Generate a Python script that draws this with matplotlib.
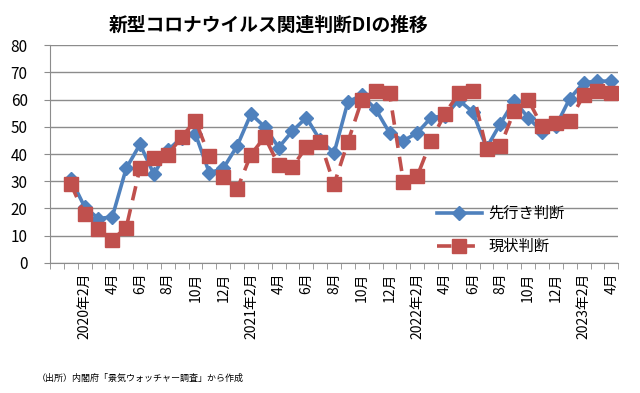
import matplotlib
matplotlib.use("Agg")
import matplotlib.pyplot as plt
import numpy as np

plt.rcParams['font.family'] = ['Noto Sans CJK JP', 'DejaVu Sans']

# categories: index 0 = 2019-12 (no data), 1..40 = 2020-01 .. 2023-04
months = ["2019年12月"] + [f"{y}年{m}月" for y in range(2020, 2024) for m in range(1, 13)][:40]
tick_labels = ["2020年2月", "4月", "6月", "8月", "10月", "12月",
               "2021年2月", "4月", "6月", "8月", "10月", "12月",
               "2022年2月", "4月", "6月", "8月", "10月", "12月",
               "2023年2月", "4月"]

outlook = [np.nan, 31.0, 20.6, 16.3, 16.9, 34.7, 43.6, 32.6, 41.4, 46.0, 47.3,
           33.1, 34.7, 42.9, 54.7, 50.0, 42.4, 48.5, 53.4, 45.0, 40.4,
           59.2, 61.6, 56.5, 47.8, 44.9, 47.8, 53.4, 54.0, 59.8, 55.5,
           42.3, 51.2, 59.6, 53.4, 48.2, 50.2, 60.4, 66.2, 66.8, 66.8]
current = [np.nan, 29.0, 17.9, 12.3, 8.6, 12.9, 34.9, 38.6, 39.6, 46.3, 52.3,
           39.2, 31.4, 27.0, 39.8, 46.3, 35.9, 35.3, 42.6, 44.5, 28.9,
           44.5, 59.8, 63.2, 62.3, 29.8, 31.9, 44.9, 54.9, 62.3, 63.3,
           41.7, 42.9, 55.9, 60.0, 50.2, 51.5, 52.2, 61.6, 63.2, 62.5]

blue = '#4F81BD'
red = '#C0504D'

fig = plt.figure(figsize=(6.4, 3.93), dpi=100)
ax = fig.add_axes([0.078, 0.331, 0.888, 0.554])

x = np.arange(len(months))
ax.plot(x, outlook, color=blue, lw=2.6, marker='D', ms=7, mfc=blue, mec=blue,
        label='先行き判断', zorder=3)
ax.plot(x, current, color=red, lw=2.6, ls=(0, (4, 2.5)), marker='s', ms=9.5,
        mfc=red, mec=red, label='現状判断', zorder=4)

ax.set_xlim(-0.5, len(months) - 0.5)
ax.set_ylim(0, 80)
ax.set_yticks(np.arange(0, 81, 10))
ax.yaxis.grid(True, color='#8c8c8c', lw=1)
ax.set_axisbelow(True)
for s in ['top', 'right']:
    ax.spines[s].set_visible(False)
ax.spines['left'].set_color('#8c8c8c')
ax.spines['bottom'].set_color('#8c8c8c')
ax.tick_params(axis='y', length=4, color='#8c8c8c', labelsize=11, pad=12)

label_pos = np.arange(2, len(months), 2)
ax.set_xticks(label_pos)
ax.set_xticklabels(tick_labels[:len(label_pos)], rotation=90, fontsize=10, va='top')
ax.tick_params(axis='x', which='major', length=0, pad=7)
ax.set_xticks(np.arange(-0.5, len(months), 1), minor=True)
ax.tick_params(axis='x', which='minor', length=4, color='#8c8c8c')

fig.text(0.42, 0.935, '新型コロナウイルス関連判断DIの推移', fontsize=13.5,
         fontweight='bold', ha='center', va='center')

leg = ax.legend(loc='center left', bbox_to_anchor=(0.681, 0.151), frameon=False,
                fontsize=11, handlelength=2.95, labelspacing=1.05,
                handletextpad=0.4, borderpad=0, borderaxespad=0)

fig.text(0.058, 0.038, '（出所）内閣府「景気ウォッチャー調査」から作成', fontsize=6.5,
         ha='left', va='center')

fig.savefig('out.png', dpi=100)
